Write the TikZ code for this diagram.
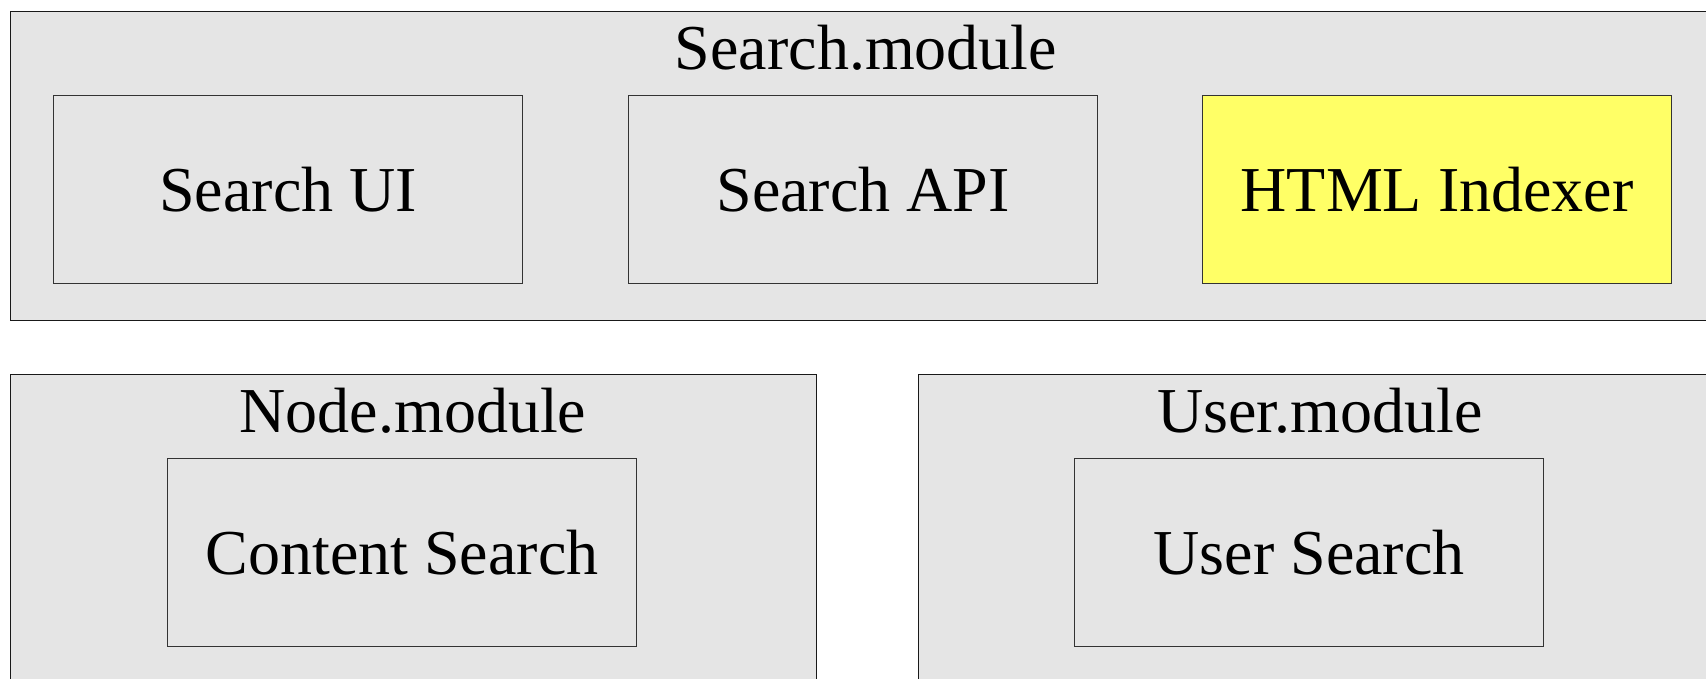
\documentclass[tikz,border=0pt]{standalone}
\usepackage{fontspec}
\setmainfont{Liberation Serif}
\begin{document}
\begin{tikzpicture}[x=1pt,y=-1pt,
  container/.style={draw=black!90, line width=1.2pt, fill=black!10, anchor=north west, inner sep=0pt},
  comp/.style={draw=black!80, line width=1.2pt, fill=black!10, anchor=north west, inner sep=0pt, minimum width=469pt, minimum height=188pt},
  lbl/.style={font=\fontsize{64}{70}\selectfont, inner sep=0pt},
]
\clip (0,0) rectangle (1706,678);
\fill[white] (0,0) rectangle (1706,678);
% containers
\node[container, minimum width=1720pt, minimum height=309pt] (searchmod) at (10,11) {};
\node[container, minimum width=806pt, minimum height=330pt] (nodemod) at (10,374) {};
\node[container, minimum width=800pt, minimum height=330pt] (usermod) at (918,374) {};
\node[lbl] (searchtitle) at (866,48) {Search.module};
\node[lbl] (nodetitle) at (413,411) {Node.module};
\node[lbl] (usertitle) at (1320,411) {User.module};
% components
\node[comp] (ui) at (53,95) {};
\node[lbl] at (ui.center) {Search UI};
\node[comp] (api) at (628,95) {};
\node[lbl] at (api.center) {Search API};
\node[comp, fill={rgb,255:red,255;green,255;blue,102}] (html) at (1202,95) {};
\node[lbl] at (html.center) {HTML Indexer};
\node[comp] (content) at (167,458) {};
\node[lbl] at (content.center) {Content Search};
\node[comp] (user) at (1074,458) {};
\node[lbl] at (user.center) {User Search};
\end{tikzpicture}
\end{document}
